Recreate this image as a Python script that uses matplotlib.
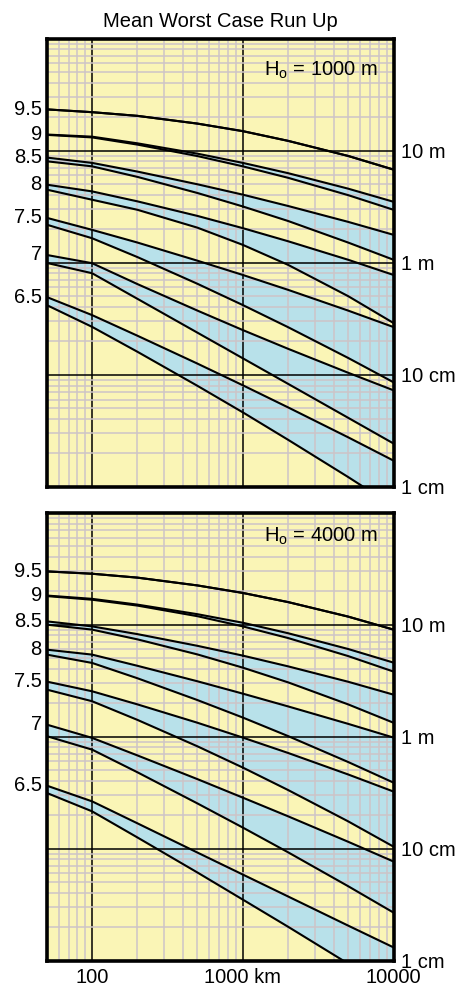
import matplotlib
matplotlib.use("Agg")
import matplotlib.pyplot as plt
from matplotlib.ticker import FixedLocator, NullFormatter, LogLocator

plt.rcParams['font.family'] = ['Liberation Sans', 'DejaVu Sans']
plt.rcParams['mathtext.fontset'] = 'custom'
plt.rcParams['mathtext.rm'] = 'Liberation Sans'

# Distance from source (km)
distance_km = [50, 100, 200, 500, 1000, 2000, 5000, 10000]

magnitudes = ["9.5", "9", "8.5", "8", "7.5", "7", "6.5"]

# Run-up (m), ocean depth 1000 m: upper and lower bound per magnitude
h1000_upper = {
    "9.5": [23.3, 22.0, 20.4, 17.4, 14.9, 12.2, 8.95, 6.76],
    "9":   [13.9, 13.3, 11.6, 9.38, 7.76, 6.28, 4.57, 3.49],
    "8.5": [8.66, 7.76, 6.49, 5.00, 4.04, 3.20, 2.31, 1.77],
    "8":   [4.96, 4.32, 3.52, 2.61, 2.03, 1.55, 1.06, 0.776],
    "7.5": [2.51, 1.96, 1.51, 1.04, 0.776, 0.571, 0.373, 0.266],
    "7":   [1.17, 0.988, 0.643, 0.373, 0.250, 0.170, 0.104, 0.0725],
    "6.5": [0.493, 0.340, 0.2225, 0.1255, 0.0804, 0.0510, 0.0276, 0.0171],
}
h1000_lower = {
    "9.5": [23.3, 22.0, 20.4, 17.4, 14.9, 12.2, 8.95, 6.76],
    "9":   [13.8, 13.1, 11.3, 8.93, 7.23, 5.71, 4.00, 2.96],
    "8.5": [8.02, 7.23, 5.82, 4.18, 3.17, 2.35, 1.51, 1.06],
    "8":   [4.48, 3.64, 2.96, 2.05, 1.44, 0.954, 0.502, 0.289],
    "7.5": [2.18, 1.65, 1.12, 0.647, 0.418, 0.265, 0.141, 0.0855],
    "7":   [0.994, 0.804, 0.475, 0.237, 0.140, 0.0827, 0.0412, 0.0243],
    "6.5": [0.418, 0.267, 0.160, 0.0795, 0.0461, 0.0262, 0.0122, 0.0067],
}

# Run-up (m), ocean depth 4000 m
h4000_upper = {
    "9.5": [29.9, 28.5, 26.3, 22.4, 19.2, 15.9, 11.8, 9.03],
    "9":   [18.2, 17.0, 15.1, 12.4, 10.4, 8.38, 6.06, 4.58],
    "8.5": [10.7, 9.65, 8.23, 6.47, 5.29, 4.24, 3.09, 2.37],
    "8":   [5.98, 5.40, 4.29, 3.12, 2.42, 1.86, 1.30, 0.980],
    "7.5": [3.10, 2.54, 1.94, 1.33, 0.980, 0.714, 0.459, 0.323],
    "7":   [1.28, 0.974, 0.679, 0.417, 0.285, 0.194, 0.115, 0.0766],
    "6.5": [0.365, 0.264, 0.168, 0.0921, 0.0586, 0.0373, 0.0205, 0.0131],
}
h4000_lower = {
    "9.5": [29.9, 28.5, 26.3, 22.4, 19.2, 15.9, 11.8, 9.03],
    "9":   [18.0, 16.7, 14.8, 11.9, 9.65, 7.59, 5.24, 3.81],
    "8.5": [10.0, 9.03, 7.39, 5.42, 4.13, 3.05, 1.94, 1.33],
    "8":   [5.40, 4.55, 3.32, 2.12, 1.48, 1.01, 0.593, 0.388],
    "7.5": [2.63, 2.07, 1.41, 0.819, 0.529, 0.333, 0.175, 0.104],
    "7":   [1.01, 0.765, 0.480, 0.253, 0.154, 0.0925, 0.0461, 0.0268],
    "6.5": [0.314, 0.215, 0.1256, 0.0611, 0.0350, 0.0200, 0.00938, 0.00524],
}

panel_titles = [r"H$_{\mathregular{o}}$ = 1000 m", r"H$_{\mathregular{o}}$ = 4000 m"]

runup_ticks = [0.01, 0.1, 1, 10, 100]
runup_labels = ["1 cm", "10 cm", "1 m", "10 m", ""]
dist_ticks = [100, 1000, 10000]
dist_labels = ["100", "1000 km", "10000"]

YELLOW = "#faf5b6"
BLUE = "#b8e1ea"
MINOR = "#cdc4c8"
FS = 14.5

W, H = 461, 994
fig = plt.figure(figsize=(W / 100, H / 100), dpi=100)
fig.patch.set_facecolor("white")

L, R = 46.7, 393.5
panels = [(38.5, 486.7), (512.7, 960.5)]
title_y = [0.928, 0.948]


def draw_panel(ax, upper, lower, label, ty, show_x):
    ax.set_facecolor(YELLOW)
    ax.set_xscale("log")
    ax.set_yscale("log")
    for m in magnitudes:
        ax.fill_between(distance_km, lower[m], upper[m], color=BLUE,
                        lw=0, zorder=1)
    for m in magnitudes:
        for series in (upper[m], lower[m]):
            ax.plot(distance_km, series, color="black", lw=1.5, zorder=4,
                    solid_joinstyle="round")
    ax.set_xlim(50, 10000)
    ax.set_ylim(0.01, 100)

    ax.xaxis.set_major_locator(FixedLocator(dist_ticks))
    ax.xaxis.set_minor_locator(LogLocator(base=10, subs=range(2, 10), numticks=20))
    ax.yaxis.set_major_locator(FixedLocator(runup_ticks))
    ax.yaxis.set_minor_locator(LogLocator(base=10, subs=range(2, 10), numticks=20))
    ax.xaxis.set_minor_formatter(NullFormatter())
    ax.yaxis.set_minor_formatter(NullFormatter())

    ax.set_axisbelow(False)
    ax.grid(which="minor", color=MINOR, lw=1.1)
    ax.grid(which="major", color="black", lw=1.1)

    ax.yaxis.tick_right()
    ax.set_yticklabels(runup_labels, fontsize=FS)
    ax.tick_params(axis="both", which="both", length=0)
    ax.tick_params(axis="y", pad=5.5)
    if show_x:
        ax.set_xticklabels(dist_labels, fontsize=FS)
        ax.tick_params(axis="x", pad=5.5)
    else:
        ax.set_xticklabels([])

    for s in ax.spines.values():
        s.set_linewidth(2.6)
        s.set_zorder(6)

    # magnitude labels at the start of each curve pair
    tr = ax.get_yaxis_transform()
    for m in magnitudes:
        ax.text(-0.014, upper[m][0], m, transform=tr, ha="right",
                va="center", fontsize=FS)

    ax.text(0.955, ty, label, transform=ax.transAxes, ha="right",
            va="center", fontsize=FS, zorder=7)


datasets = [(h1000_upper, h1000_lower), (h4000_upper, h4000_lower)]
for i, ((top, bot), (up, lo)) in enumerate(zip(panels, datasets)):
    ax = fig.add_axes([L / W, 1 - bot / H, (R - L) / W, (bot - top) / H])
    draw_panel(ax, up, lo, panel_titles[i], title_y[i], show_x=(i == 1))
    if i == 0:
        ax.set_title("Mean Worst Case Run Up", fontsize=14.5, pad=8)

fig.savefig("out.png", dpi=100)
